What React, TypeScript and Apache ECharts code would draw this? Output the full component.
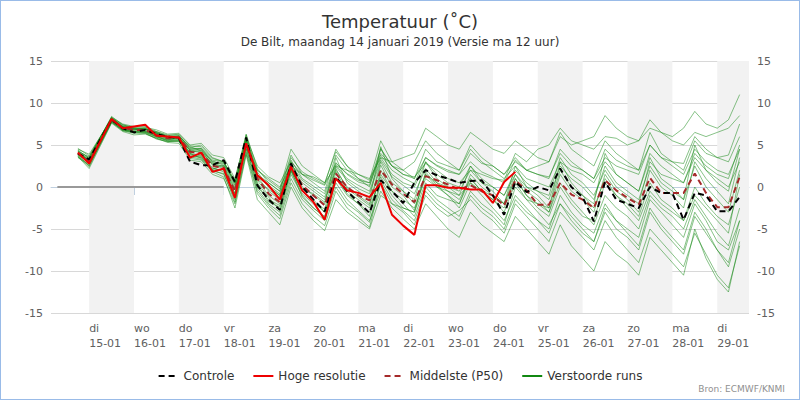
import { useEffect, useRef } from 'react';
import * as echarts from 'echarts';

// Forecast times: 14-01 18h, 15-01 00h, then 6-hourly from 15-01 12h to 29-01 12h
const startTimes = [new Date(2019, 0, 14, 18).getTime(), new Date(2019, 0, 15, 0).getTime()];
const sixHourlyStart = new Date(2019, 0, 15, 12).getTime();
const times: number[] = [...startTimes];
for (let i = 0; i < 57; i++) times.push(sixHourlyStart + i * 6 * 3600 * 1000);

// Controle run
const controle = [
  4.0, 3.3, 8.0, 7.0, 6.5, 6.8, 6.3, 6.0, 5.8, 3.0, 2.6, 2.6,
  3.2, 0.6, 5.9, 0.2, -1.5, -2.7, 2.8, 0.0, -1.5, -2.9, 1.2, -0.5,
  -1.8, -3.1, 0.8, -0.5, -1.9, 0.5, 2.0, 1.4, 1.0, 0.5, 0.7, 0.8,
  -1.0, -3.3, 0.6, -0.6, 0.0, -0.4, 2.2, 0.0, -1.2, -4.1, 0.6, -1.5,
  -2.0, -2.5, 0.0, -0.7, -0.7, -3.9, -0.7, -1.0, -2.9, -2.9, -1.2,
];

// Hoge resolutie run (ends 24-01 12h)
const hogeResolutie = [
  4.1, 2.8, 8.1, 7.0, 7.2, 7.4, 6.1, 6.0, 5.9, 3.5, 4.1, 1.8,
  2.2, -1.3, 5.2, 1.4, 0.2, -1.5, 2.4, -0.4, -1.8, -3.9, 1.0, -0.4,
  -0.7, -1.2, 0.5, -3.3, -4.6, -5.7, 0.2, 0.2, -0.1, -0.1, -0.3, -0.3,
  -1.9, 0.6, 1.8,
];

// Middelste (P50)
const middelste = [
  4.0, 3.0, 8.0, 7.0, 6.8, 6.8, 6.2, 5.8, 5.9, 4.2, 4.0, 2.5,
  2.3, -0.5, 5.2, 1.0, -0.8, -1.8, 2.5, 0.2, -1.0, -2.2, 1.6, 0.0,
  -1.0, -1.6, 2.0, 0.3, -0.8, -1.8, 1.3, 0.8, 0.3, -0.3, 0.2, -0.5,
  -1.0, -2.2, 0.8, -0.4, -2.1, -2.1, 0.5, -0.9, -1.5, -2.5, 0.8, -0.4,
  -1.3, -2.1, 1.1, -0.7, -0.7, -0.7, 1.6, -0.7, -2.4, -2.4, 1.2,
];

// Verstoorde runs (ensemble members)
const member1 = [
  4.3, 3.5, 8.2, 7.3, 7.0, 6.9, 6.5, 6.0, 6.1, 4.5, 4.6, 3.0,
  2.8, 0.2, 5.6, 1.8, 0.0, -1.0, 3.2, 1.0, 0.1, -0.8, 2.9, 1.5,
  0.6, 0.2, 3.8, 2.0, 1.1, 0.4, 3.5, 2.6, 2.0, 1.5, 3.0, 1.8,
  1.2, 0.5, 3.2, 2.0, 1.5, 1.2, 4.0, 2.5, 2.0, 1.0, 4.5, 3.2,
  2.5, 2.0, 5.0, 3.5, 3.0, 2.8, 6.0, 4.5, 3.5, 3.8, 7.5,
];
const member2 = [
  3.6, 2.2, 7.6, 6.6, 6.2, 6.3, 5.8, 5.3, 5.2, 3.2, 3.0, 1.5,
  1.0, -2.0, 4.0, -0.8, -2.5, -3.8, 0.5, -2.0, -3.5, -4.6, -0.5, -2.5,
  -3.6, -4.8, 0.5, -2.0, -3.0, -4.5, -1.0, -2.5, -3.5, -2.8, -1.5, -3.0,
  -4.0, -5.5, -2.0, -3.5, -5.0, -6.5, -3.0, -4.5, -6.0, -7.5, -4.0, -6.0,
  -7.5, -9.0, -5.0, -6.5, -8.0, -9.5, -5.5, -8.0, -10.5, -12.0, -7.0,
];
const member3 = [
  4.2, 3.6, 8.3, 7.5, 7.2, 7.1, 6.8, 6.3, 6.4, 5.0, 5.2, 3.8,
  3.5, 1.0, 6.0, 2.5, 1.2, 0.5, 3.0, 1.5, 0.8, 0.2, 2.8, 1.6,
  0.8, 0.5, 4.6, 2.5, 1.5, 1.2, 2.8, 2.0, 1.0, 0.5, 2.0, 1.5,
  1.0, 0.8, 4.0, 3.0, 4.5, 5.0, 7.0, 5.5, 5.0, 4.5, 6.0, 5.8,
  5.0, 5.5, 7.0, 6.5, 6.0, 7.0, 9.0, 7.5, 7.0, 8.0, 11.0,
];
const member4 = [
  3.8, 2.9, 7.9, 6.9, 6.7, 6.6, 6.0, 5.6, 5.6, 3.8, 3.5, 2.2,
  2.0, -1.0, 5.5, 0.5, -1.2, -2.8, 2.0, -0.5, -1.5, -3.0, 1.0, -1.0,
  -2.0, -3.0, 1.5, -0.5, -1.5, -2.5, 1.0, 0.0, -0.5, -1.0, 0.5, -0.5,
  -1.5, -3.0, 0.5, -1.5, -3.0, -4.5, -2.0, -3.5, -5.0, -6.5, -2.5, -4.0,
  -5.0, -6.0, -1.5, -3.0, -4.5, -6.0, -2.0, -4.0, -6.5, -7.5, -4.0,
];
const member5 = [
  4.5, 3.9, 8.1, 7.2, 6.9, 7.0, 6.4, 5.9, 6.0, 4.8, 4.3, 3.1,
  2.6, 0.8, 4.8, 1.5, 0.5, -0.5, 3.5, 1.8, 1.0, 0.3, 4.5, 2.5,
  1.5, 0.8, 5.5, 3.0, 2.0, 1.0, 3.5, 2.5, 1.8, 1.5, 4.0, 2.8,
  2.5, 1.5, 3.5, 2.0, 1.5, 1.0, 4.5, 3.0, 2.0, 1.0, 3.5, 2.5,
  2.0, 1.5, 5.0, 3.5, 2.5, 1.5, 4.5, 3.0, 2.0, 1.5, 4.5,
];
const member6 = [
  3.5, 2.6, 7.7, 6.8, 6.5, 6.5, 5.9, 5.5, 5.6, 3.9, 3.7, 2.0,
  1.5, -1.5, 4.5, -0.2, -2.0, -3.0, 1.5, -1.0, -2.5, -3.5, 0.5, -1.5,
  -2.8, -4.0, -0.5, -2.5, -3.8, -5.0, -2.0, -3.5, -5.0, -6.0, -3.0, -4.5,
  -5.5, -6.5, -3.5, -5.0, -6.5, -8.0, -4.5, -7.0, -8.5, -10.0, -6.5, -8.0,
  -9.0, -10.5, -6.0, -7.5, -9.0, -10.5, -5.0, -8.5, -11.0, -12.5, -6.5,
];
const member7 = [
  4.0, 3.2, 8.0, 7.1, 6.9, 6.7, 6.3, 5.7, 5.8, 4.1, 4.4, 2.6,
  2.5, -0.8, 6.2, 1.2, -0.5, -1.5, 3.0, 0.0, -1.0, -2.0, 3.5, 0.5,
  -0.5, -1.5, 4.8, 1.0, -0.5, -1.5, 3.0, 1.0, 0.0, -1.0, 2.5, 0.5,
  -0.5, -2.0, 2.5, 0.0, -1.0, -2.5, 3.0, 0.5, -1.0, -2.0, 4.0, 1.5,
  0.5, -0.5, 3.5, 1.0, 0.0, -1.5, 5.0, 2.0, 0.5, -0.5, 4.5,
];
const member8 = [
  4.4, 3.4, 8.4, 7.4, 7.1, 7.2, 6.6, 6.1, 6.3, 4.9, 4.8, 3.4,
  3.0, 0.5, 5.0, 2.0, 1.0, 0.0, 2.5, 1.5, 1.2, 0.5, 2.5, 2.0,
  1.5, 1.0, 3.5, 3.0, 3.5, 4.0, 7.0, 6.0, 5.0, 4.5, 6.5, 5.5,
  4.5, 4.0, 5.5, 4.5, 3.5, 3.0, 6.0, 5.0, 5.5, 6.0, 8.5, 7.0,
  6.0, 5.5, 8.0, 6.5, 5.5, 5.0, 6.5, 6.0, 6.5, 7.0, 8.5,
];
const member9 = [
  3.7, 2.5, 7.8, 6.7, 6.4, 6.4, 5.7, 5.4, 5.5, 3.4, 3.2, 1.8,
  1.2, -2.5, 3.8, -1.5, -3.0, -4.5, 0.0, -2.5, -4.0, -5.2, -1.5, -3.0,
  -4.0, -5.0, -1.0, -2.0, -2.5, -3.0, 0.5, -1.0, -1.5, -2.0, 1.0, -0.5,
  -1.0, -2.0, 1.5, -0.5, -1.5, -3.0, 0.5, -1.5, -3.0, -4.5, -1.0, -2.5,
  -3.5, -5.0, -1.0, -2.5, -3.5, -5.0, -1.5, -3.5, -5.5, -7.0, -2.5,
];
const member10 = [
  4.1, 3.1, 8.1, 7.0, 6.8, 6.9, 6.4, 5.9, 6.0, 4.3, 4.1, 2.7,
  2.2, -0.3, 5.0, 1.5, 0.0, -1.0, 2.5, 0.5, -0.5, -1.5, 2.0, 0.0,
  -1.0, -2.0, 3.0, 0.5, -0.5, -2.0, 1.5, 0.0, -1.0, -2.5, 0.5, -1.0,
  -2.5, -4.0, -1.0, -2.5, -4.0, -5.5, -2.0, -4.0, -5.5, -6.5, -3.0, -5.0,
  -6.0, -7.5, -3.0, -5.0, -6.5, -8.0, -3.5, -5.5, -7.5, -9.0, -4.0,
];
const member11 = [
  4.6, 3.7, 8.2, 7.4, 7.0, 6.9, 6.6, 6.2, 6.2, 4.6, 4.6, 3.2,
  3.0, 0.5, 5.8, 2.0, 0.8, -0.2, 4.5, 2.5, 1.5, 0.5, 4.2, 2.5,
  1.0, 0.0, 4.5, 2.5, 2.0, 3.0, 5.5, 4.0, 3.0, 2.0, 5.0, 3.5,
  2.5, 1.5, 3.0, 2.0, 2.5, 3.0, 6.5, 4.5, 3.5, 2.5, 5.5, 4.0,
  3.0, 2.0, 6.5, 4.0, 3.0, 2.0, 5.5, 4.0, 3.5, 3.0, 6.0,
];
const member12 = [
  3.9, 2.8, 7.9, 6.8, 6.6, 6.6, 6.1, 5.7, 5.7, 4.0, 3.8, 2.3,
  1.8, -1.2, 5.2, 0.8, -1.0, -2.0, 2.2, -0.5, -1.8, -3.0, 1.2, -0.8,
  -2.0, -3.5, 2.0, -0.5, -2.0, -3.5, 0.0, -1.5, -2.5, -3.5, -0.5, -2.0,
  -3.0, -4.5, 0.0, -1.5, -2.0, -3.0, 1.5, -0.5, -1.5, -3.0, 1.5, -0.5,
  -1.5, -3.0, 2.0, 0.0, -1.0, -2.5, 3.0, 1.0, -0.5, -2.0, 3.5,
];
const member13 = [
  4.2, 3.0, 8.0, 7.2, 6.9, 6.6, 6.3, 5.8, 5.8, 4.4, 4.5, 2.9,
  2.4, -0.2, 5.9, 0.9, -0.3, -1.2, 2.0, -0.2, -0.8, -1.8, 2.4, 0.8,
  -0.2, -0.8, 3.2, 1.2, 0.2, -0.8, 2.2, 0.5, -0.5, -1.5, 1.0, -0.5,
  -1.5, -2.5, 1.0, -1.0, -2.5, -3.5, 0.0, -2.0, -3.5, -4.0, 0.5, -1.0,
  -2.0, -3.5, 0.5, -1.5, -2.5, -4.0, 0.0, -2.0, -3.5, -4.5, 0.0,
];
const member14 = [
  3.9, 3.3, 8.1, 6.9, 6.6, 6.8, 6.0, 5.6, 5.9, 4.0, 3.4, 2.1,
  2.6, 0.0, 4.6, 0.4, -1.8, -2.4, 1.8, -0.8, -2.0, -2.6, 2.2, -0.2,
  -1.2, -2.2, 2.6, 0.0, -1.0, -2.8, 1.5, 0.5, 0.0, -0.5, 2.0, 0.5,
  0.0, -1.0, 2.0, 0.5, -0.5, -1.5, 2.5, 1.0, 0.0, -1.5, 2.5, 0.5,
  -0.5, -1.5, 2.5, 0.5, -0.5, -1.5, 2.5, 0.0, -1.5, -3.0, 2.0,
];
const member15 = [
  4.0, 3.4, 8.3, 7.1, 6.8, 6.9, 6.4, 6.0, 5.9, 4.4, 4.2, 2.8,
  2.9, 0.4, 5.4, 1.2, 0.2, -0.8, 2.7, 0.8, -0.2, -1.2, 2.6, 1.0,
  0.2, -0.5, 3.5, 1.5, 0.5, 0.0, 3.0, 1.5, 0.5, 0.0, 2.5, 1.0,
  0.0, -1.0, 1.5, 0.0, -0.5, -1.0, 3.5, 1.5, 0.5, -1.0, 2.0, 0.0,
  -1.0, -2.0, 3.0, 1.5, 1.0, 0.5, 4.0, 2.5, 1.5, 1.0, 5.0,
];
const member16 = [
  3.6, 2.7, 7.7, 6.7, 6.5, 6.4, 5.8, 5.4, 5.5, 3.6, 3.3, 1.9,
  1.6, -1.8, 4.2, -0.5, -2.2, -3.4, 1.0, -1.5, -2.8, -4.0, 0.0, -2.0,
  -3.0, -4.2, 0.8, -1.5, -2.8, -4.0, -0.5, -2.0, -3.0, -4.0, -1.0, -2.5,
  -3.5, -5.0, -1.5, -3.0, -4.0, -5.0, -1.0, -3.0, -4.5, -5.5, -2.0, -4.0,
  -5.5, -7.0, -2.5, -4.5, -6.0, -7.5, -3.0, -5.0, -7.5, -9.5, -5.0,
];
const member17 = [
  4.3, 3.2, 8.2, 7.2, 7.0, 7.0, 6.5, 6.0, 6.1, 4.7, 5.0, 3.5,
  3.0, 0.8, 6.3, 2.2, 0.5, -0.5, 3.8, 1.5, 0.5, -0.5, 3.8, 2.0,
  1.0, 0.5, 4.0, 2.5, 1.5, 1.0, 4.5, 3.0, 2.5, 2.0, 4.5, 3.0,
  2.0, 1.0, 2.5, 1.0, 0.5, 0.0, 3.0, 2.0, 1.5, 0.5, 3.0, 1.5,
  0.5, -0.5, 4.0, 2.5, 1.5, 0.5, 3.5, 2.0, 1.0, 0.0, 3.0,
];
const member18 = [
  3.8, 2.4, 7.8, 6.8, 6.6, 6.5, 6.0, 5.5, 5.4, 3.6, 3.6, 2.0,
  2.1, -0.8, 4.9, 0.0, -1.5, -2.2, 2.0, -1.2, -2.5, -3.6, 1.8, -0.5,
  -1.5, -2.5, 1.2, -1.0, -2.5, -3.0, 1.8, 0.2, -1.0, -2.0, 1.5, 0.0,
  -1.0, -2.0, 1.0, -1.0, -2.0, -2.5, 2.0, 0.0, -1.0, -2.5, 1.0, -1.0,
  -2.5, -4.0, -0.5, -2.0, -3.0, -4.0, -1.0, -2.5, -4.0, -5.5, 1.5,
];
const members = [
  member1, member2, member3, member4, member5, member6,
  member7, member8, member9, member10, member11, member12,
  member13, member14, member15, member16, member17, member18,
];

// Shaded days (every other day)
const shadedDays = [15, 17, 19, 21, 23, 25, 27, 29];
const weekdays = ['zo', 'ma', 'di', 'wo', 'do', 'vr', 'za'];

const toPairs = (values: number[]) => values.map((v, i) => [times[i], v]);

export default function App() {
  const chartRef = useRef<HTMLDivElement>(null);

  useEffect(() => {
    if (!chartRef.current) return;
    const chart = echarts.init(chartRef.current, null, { renderer: 'svg' });
    const day = 24 * 3600 * 1000;
    const xMax = new Date(2019, 0, 29, 17).getTime();

    const yAxisCommon = {
      type: 'value',
      min: -15,
      max: 15,
      interval: 5,
      axisLine: { show: false },
      axisTick: { show: false },
      axisLabel: { color: '#606060', fontSize: 11 },
      splitLine: { lineStyle: { color: '#d8d8d8' } },
    };

    chart.setOption({
      animation: false,
      textStyle: { fontFamily: 'DejaVu Sans' },
      title: {
        text: 'Temperatuur (˚C)',
        subtext: 'De Bilt, maandag 14 januari 2019 (Versie ma 12 uur)',
        left: 'center',
        top: 6,
        itemGap: 6,
        textStyle: { fontSize: 18, fontWeight: 'normal', color: '#333333' },
        subtextStyle: { fontSize: 12, color: '#333333' },
      },
      graphic: [
        {
          type: 'text',
          right: 14,
          bottom: 6,
          style: { text: 'Bron: ECMWF/KNMI', fill: '#909090', fontSize: 9, fontFamily: 'DejaVu Sans' },
        },
      ],
      legend: {
        bottom: 12,
        left: 'center',
        itemWidth: 20,
        itemGap: 18,
        itemStyle: { opacity: 0 },
        textStyle: { fontSize: 12, color: '#333333' },
        data: [
          { name: 'Controle' },
          { name: 'Hoge resolutie' },
          { name: 'Middelste (P50)' },
          { name: 'Verstoorde runs', lineStyle: { opacity: 1, width: 2 } },
        ],
      },
      grid: { left: 50, right: 50, top: 60, bottom: 86 },
      xAxis: {
        type: 'time',
        min: new Date(2019, 0, 14, 3, 36).getTime(),
        max: xMax,
        minInterval: day,
        maxInterval: day,
        axisLine: { lineStyle: { color: '#c0d0e0' } },
        axisTick: { show: true, length: 8, lineStyle: { color: '#c0d0e0' } },
        splitLine: { show: false },
        axisLabel: {
          color: '#606060',
          fontSize: 11,
          align: 'left',
          lineHeight: 15,
          showMinLabel: false,
          showMaxLabel: false,
          formatter: (v: number) => {
            const d = new Date(v);
            const dd = String(d.getDate()).padStart(2, '0');
            const mm = String(d.getMonth() + 1).padStart(2, '0');
            return weekdays[d.getDay()] + '\n' + dd + '-' + mm;
          },
        },
      },
      yAxis: [
        { ...yAxisCommon, position: 'left' },
        { ...yAxisCommon, position: 'right', splitLine: { show: false } },
      ],
      series: [
        {
          name: 'Waarneming',
          type: 'line',
          symbol: 'none',
          z: 1,
          lineStyle: { color: '#999999', width: 2 },
          data: [
            [new Date(2019, 0, 14, 7).getTime(), 0],
            [new Date(2019, 0, 18, 0).getTime(), 0],
          ],
          markArea: {
            silent: true,
            itemStyle: { color: '#f2f2f2' },
            data: shadedDays.map((d) => [
              { xAxis: new Date(2019, 0, d).getTime() },
              { xAxis: Math.min(new Date(2019, 0, d + 1).getTime(), xMax) },
            ]),
          },
        },
        ...members.map((m) => ({
          name: 'Verstoorde runs',
          type: 'line',
          symbol: 'none',
          z: 2,
          itemStyle: { color: '#118811' },
          lineStyle: { color: '#118811', width: 1, opacity: 0.5 },
          data: toPairs(m),
        })),
        {
          name: 'Middelste (P50)',
          type: 'line',
          symbol: 'none',
          z: 3,
          itemStyle: { color: '#a52a2a' },
          lineStyle: { color: '#a52a2a', width: 2, type: [6, 4] },
          data: toPairs(middelste),
        },
        {
          name: 'Controle',
          type: 'line',
          symbol: 'none',
          z: 4,
          itemStyle: { color: '#000000' },
          lineStyle: { color: '#000000', width: 2, type: [6, 4] },
          data: toPairs(controle),
        },
        {
          name: 'Hoge resolutie',
          type: 'line',
          symbol: 'none',
          z: 5,
          itemStyle: { color: '#ee0000' },
          lineStyle: { color: '#ee0000', width: 2 },
          data: toPairs(hogeResolutie),
        },
      ],
    });

    return () => chart.dispose();
  }, []);

  return (
    <div
      style={{
        position: 'fixed',
        left: 0,
        top: 0,
        width: 800,
        height: 400,
        boxSizing: 'border-box',
        border: '1px solid #99bbe8',
        background: '#ffffff',
      }}
    >
      <div ref={chartRef} style={{ width: 798, height: 398 }} />
    </div>
  );
}
